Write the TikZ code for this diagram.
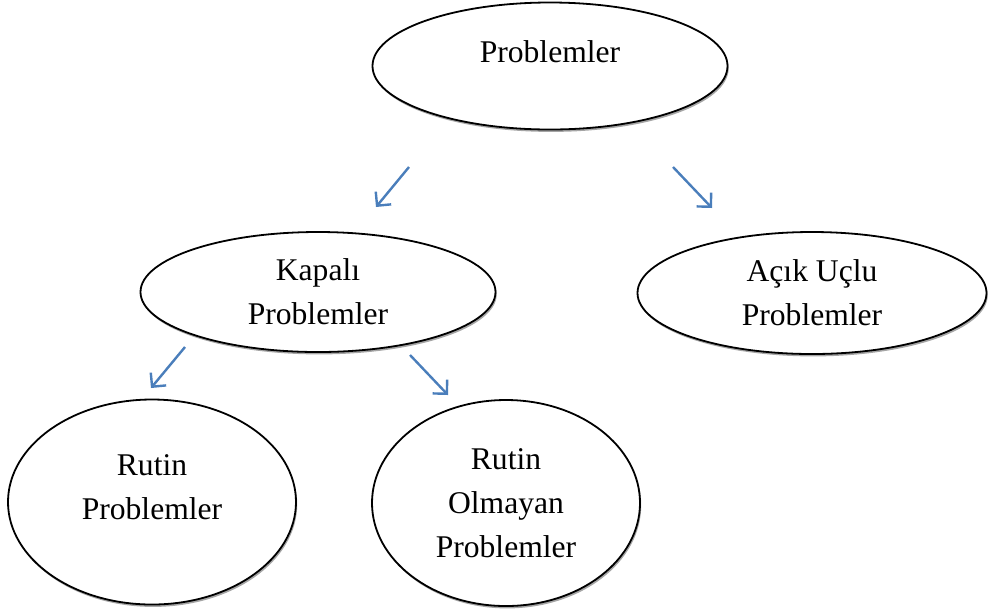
\documentclass[tikz,border=0pt]{standalone}
\usepackage{fontspec}
\setmainfont{Liberation Serif}
\usetikzlibrary{shapes.geometric,shadows,arrows.meta}
\definecolor{arrblue}{HTML}{4A7EBB}
\tikzset{
	bubble/.style={ellipse,draw,line width=0.9pt,fill=white,inner sep=0pt,align=center,
		font=\fontsize{15.8}{22}\selectfont,
		drop shadow={shadow xshift=0.6pt,shadow yshift=-1.2pt,fill=black!70}},
	arr/.style={draw=arrblue,line width=1.2pt,-{Straight Barb[length=5pt,width=10pt]}}
}

\begin{document}
\begin{tikzpicture}[x=0.5pt,y=-0.5pt]
		\useasboundingbox (0,0) rectangle (988,612);

		\node[bubble,minimum width=177.5pt,minimum height=63.5pt,text depth=14pt] (prob) at (550,66) {Problemler};
		\node[bubble,minimum width=177.5pt,minimum height=60pt] (kapali) at (318,292) {Kapalı\\Problemler};
		\node[bubble,minimum width=174.5pt,minimum height=61pt] (acik) at (812,293) {Açık Uçlu\\Problemler};
		\node[bubble,minimum width=144pt,minimum height=102.5pt,text depth=15pt] (rutin) at (152,502) {Rutin\\Problemler};
		\node[bubble,minimum width=134pt,minimum height=103pt] (olmayan) at (506,503) {Rutin\\Olmayan\\Problemler};

		\coordinate (p1) at (409,167);
		\coordinate (k1) at (376,207);
		\coordinate (p2) at (673,167);
		\coordinate (a1) at (712,208);
		\coordinate (k2) at (185,347);
		\coordinate (r1) at (151,388);
		\coordinate (k3) at (410,355);
		\coordinate (o1) at (448,395);
		\draw[arr] (p1) -- (k1);
		\draw[arr] (p2) -- (a1);
		\draw[arr] (k2) -- (r1);
		\draw[arr] (k3) -- (o1);
	\end{tikzpicture}
\end{document}
